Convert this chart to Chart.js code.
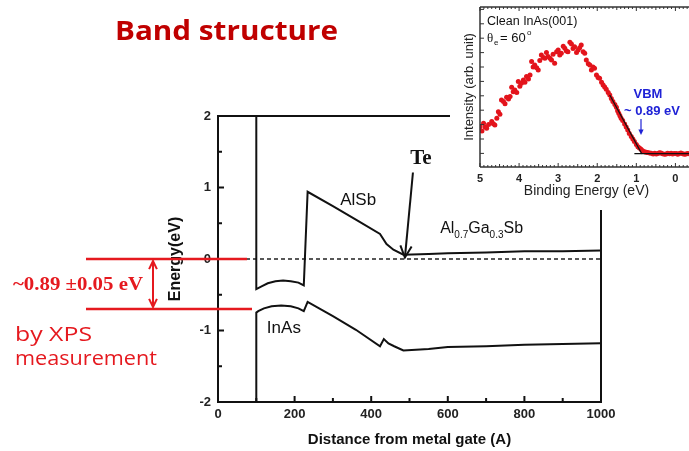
<!DOCTYPE html>
<html>
<head>
<meta charset="utf-8">
<script src="https://cdn.jsdelivr.net/npm/chart.js@4.4.1/dist/chart.umd.min.js"></script>
<style>
html, body { margin: 0; padding: 0; background: #fff; overflow: hidden; width: 689px; height: 451px; }
#main { position: absolute; left: 0; top: 0; }
#inset { position: absolute; left: 450px; top: 0; background: #fff; }
</style>
</head>
<body>
<canvas id="main" width="689" height="451"></canvas>
<canvas id="inset" width="250" height="210"></canvas>
<script>
// main plot: band edges vs distance from the gate
const cbDistance = [100, 100, 115, 130, 150, 170, 190, 210, 224, 234, 300, 360, 423, 440, 458, 484, 550, 600, 700, 800, 900, 1000];
const cbEnergy = [2, -0.42, -0.38, -0.34, -0.31, -0.30, -0.31, -0.33, -0.37, 0.94, 0.74, 0.55, 0.35, 0.21, 0.13, 0.06, 0.07, 0.08, 0.09, 0.11, 0.11, 0.12];
const vbDistance = [100, 100, 105, 120, 140, 165, 190, 210, 224, 234, 300, 360, 423, 433, 445, 460, 484, 550, 600, 700, 800, 900, 1000];
const vbEnergy = [-2, -0.75, -0.73, -0.69, -0.66, -0.65, -0.66, -0.69, -0.73, -0.60, -0.80, -0.99, -1.22, -1.12, -1.18, -1.22, -1.28, -1.26, -1.23, -1.22, -1.20, -1.19, -1.18];
const fermiDistance = [0, 1000];
const fermiEnergy = [0, 0];
const xTickLabels = [0, 200, 400, 600, 800, 1000];
const yTickLabels = [-2, -1, 0, 1, 2];

// inset: XPS valence band spectrum
const bindingEnergy = [5.00, 4.95, 4.91, 4.87, 4.83, 4.78, 4.70, 4.66, 4.62, 4.57, 4.53, 4.49, 4.45, 4.40, 4.36, 4.32, 4.27, 4.23, 4.19, 4.15,
  4.11, 4.06, 4.02, 3.98, 3.94, 3.89, 3.85, 3.81, 3.76, 3.72, 3.68, 3.64, 3.60, 3.55, 3.51, 3.47, 3.43, 3.38, 3.34, 3.30,
  3.26, 3.21, 3.17, 3.13, 3.09, 3.04, 3.00, 2.96, 2.92, 2.87, 2.83, 2.79, 2.75, 2.70, 2.66, 2.62, 2.58, 2.53, 2.49, 2.45,
  2.41, 2.36, 2.32, 2.28, 2.23, 2.19, 2.15, 2.11, 2.07, 2.02, 1.98, 1.94, 1.89, 1.85, 1.81, 1.77, 1.72, 1.68, 1.64, 1.60,
  1.55, 1.51, 1.48, 1.45, 1.42, 1.39, 1.35, 1.30, 1.26, 1.22, 1.18, 1.13, 1.09, 1.05, 1.00, 0.96, 0.92, 0.88, 0.84, 0.79,
  0.75, 0.71, 0.66, 0.62, 0.57, 0.53, 0.49, 0.45, 0.41, 0.37, 0.33, 0.28, 0.24, 0.20, 0.15, 0.11, 0.07, 0.03, -0.02, -0.06,
  -0.10, -0.14, -0.19, -0.23, -0.27, -0.31, -0.35, -0.40];
const intensity = [25.2, 22.5, 27.3, 25.0, 24.2, 26.5, 28.4, 27.0, 26.3, 30.5, 34.6, 33.0, 41.9, 40.9, 39.5, 43.6, 42.5, 44.0, 49.8, 47.0,
  48.2, 46.5, 53.4, 50.5, 52.3, 54.4, 53.0, 56.5, 55.0, 57.5, 65.9, 62.5, 63.8, 62.0, 60.6, 66.5, 70.0, 68.5, 67.9, 71.5,
  69.0, 68.0, 66.9, 70.5, 64.8, 72.0, 73.2, 70.0, 71.1, 75.5, 74.2, 72.5, 72.1, 78.0, 76.9, 74.0, 75.2, 71.5, 73.2, 74.5,
  76.3, 72.0, 71.1, 66.9, 64.5, 63.8, 60.6, 62.5, 61.7, 57.5, 56.0, 55.4, 53.0, 51.3, 50.0, 48.6, 46.5, 45.0, 42.8, 40.9,
  39.0, 37.3, 35.2, 33.6, 32.0, 30.4, 29.0, 26.9, 25.0, 23.2, 21.0, 19.0, 17.5, 15.9, 14.0, 12.7, 11.8, 11.1, 10.2, 9.6,
  9.2, 9.0, 8.7, 8.6, 8.2, 8.6, 8.1, 8.5, 8.9, 8.8, 8.3, 8.0, 8.1, 8.6, 8.3, 8.6, 8.2, 8.5, 8.4, 8.0,
  8.5, 8.8, 8.3, 8.0, 8.1, 8.5, 8.3, 8.1];
const fitEnergy = [1.68, 0.86];
const fitIntensity = [45.0, 8.2];
const baseEnergy = [1.05, -0.45];
const baseIntensity = [8.4, 8.4];
const insetTickLabels = [5, 4, 3, 2, 1, 0];

const RED = '#e5191f';
const zip = (xs, ys) => xs.map((v, i) => ({ x: v, y: ys[i] }));

function line(ctx, x1, y1, x2, y2) {
  ctx.beginPath(); ctx.moveTo(x1, y1); ctx.lineTo(x2, y2); ctx.stroke();
}
function fitText(ctx, text, x, y, w) {
  const m = ctx.measureText(text).width;
  ctx.save(); ctx.translate(x, y); ctx.scale(w / m, 1); ctx.fillText(text, 0, 0); ctx.restore();
}
function arrowHead(ctx, x1, y1, x2, y2, len, open) {
  const a = Math.atan2(y2 - y1, x2 - x1);
  ctx.beginPath();
  ctx.moveTo(x2 - len * Math.cos(a - 0.45), y2 - len * Math.sin(a - 0.45));
  ctx.lineTo(x2, y2);
  ctx.lineTo(x2 - len * Math.cos(a + 0.45), y2 - len * Math.sin(a + 0.45));
  if (open) ctx.stroke(); else { ctx.closePath(); ctx.fill(); }
}

const mainOverlay = {
  id: 'mainOverlay',
  afterDraw(chart) {
    const { ctx, chartArea: a, scales: { x, y } } = chart;
    ctx.save();
    ctx.strokeStyle = '#111';
    ctx.lineWidth = 2;
    ctx.strokeRect(a.left, a.top, a.right - a.left, a.bottom - a.top);
    for (let v = 0; v <= 1000; v += 100) {
      const px = x.getPixelForValue(v);
      line(ctx, px, a.bottom, px, a.bottom - (v % 200 ? 4 : 6));
    }
    for (let v = -2; v <= 2; v += 0.5) {
      const py = y.getPixelForValue(v);
      line(ctx, a.left, py, a.left + (v % 1 ? 4 : 6), py);
    }

    // labels
    ctx.fillStyle = '#111';
    ctx.textBaseline = 'middle';
    ctx.textAlign = 'center';
    ctx.font = '17px "Liberation Sans"';
    ctx.fillText('AlSb', x.getPixelForValue(366), y.getPixelForValue(0.82));
    ctx.fillText('InAs', x.getPixelForValue(172), y.getPixelForValue(-0.97));
    ctx.font = 'bold 21px "Liberation Serif"';
    ctx.fillText('Te', x.getPixelForValue(530), y.getPixelForValue(1.41));

    // Te arrow
    const ax1 = x.getPixelForValue(509), ay1 = y.getPixelForValue(1.21);
    const ax2 = x.getPixelForValue(488), ay2 = y.getPixelForValue(0.02);
    ctx.lineWidth = 2;
    line(ctx, ax1, ay1, ax2, ay2);
    arrowHead(ctx, ax1, ay1, ax2, ay2, 13, true);

    // Al0.7Ga0.3Sb
    ctx.textAlign = 'left';
    ctx.textBaseline = 'alphabetic';
    let tx = x.getPixelForValue(580);
    const ty = y.getPixelForValue(0.37);
    const parts = [['Al', 0], ['0.7', 1], ['Ga', 0], ['0.3', 1], ['Sb', 0]];
    for (const [t, sub] of parts) {
      ctx.font = sub ? '10px "Liberation Sans"' : '16px "Liberation Sans"';
      ctx.fillText(t, tx, ty + (sub ? 5 : 0));
      tx += ctx.measureText(t).width;
    }

    // slide annotations
    ctx.strokeStyle = RED;
    ctx.fillStyle = RED;
    ctx.lineWidth = 2.5;
    const y0 = y.getPixelForValue(0);
    const y1 = y0 + 50;
    line(ctx, 86, y0, 247, y0);
    line(ctx, 86, y1, 252, y1);
    ctx.lineWidth = 2;
    line(ctx, 153, y0 + 2, 153, y1 - 2);
    arrowHead(ctx, 153, y1, 153, y0 + 2, 9, true);
    arrowHead(ctx, 153, y0, 153, y1 - 2, 9, true);
    ctx.textBaseline = 'middle';
    ctx.font = 'bold 18px "Liberation Serif"';
    fitText(ctx, '~0.89 \u00b10.05 eV', 13, 285, 130);
    ctx.font = '20px "Open Sans"';
    fitText(ctx, 'by XPS', 15, 335, 77);
    fitText(ctx, 'measurement', 15, 359, 142);
    ctx.fillStyle = '#c00000';
    ctx.font = 'bold 26px "Open Sans"';
    fitText(ctx, 'Band structure', 115, 33, 223);
    ctx.restore();
  }
};

function build() {
new Chart(document.getElementById('main'), {
  type: 'line',
  data: {
    datasets: [
      { data: zip(cbDistance, cbEnergy), borderColor: '#111', borderWidth: 2, pointRadius: 0, tension: 0 },
      { data: zip(vbDistance, vbEnergy), borderColor: '#111', borderWidth: 2, pointRadius: 0, tension: 0 },
      { data: zip(fermiDistance, fermiEnergy), borderColor: '#222', borderWidth: 1.5, borderDash: [4, 3], pointRadius: 0 }
    ]
  },
  options: {
    responsive: false,
    animation: false,
    layout: { padding: { left: 162, right: 88, top: 116, bottom: 0 } },
    plugins: { legend: { display: false }, tooltip: { enabled: false } },
    scales: {
      x: {
        type: 'linear', min: 0, max: 1000,
        afterBuildTicks: s => { s.ticks = xTickLabels.map(v => ({ value: v })); },
        afterFit: s => { s.height = 49; },
        grid: { display: false, drawTicks: false },
        border: { display: false },
        ticks: { color: '#222', padding: 5, callback: v => String(v),
          font: { family: 'Liberation Sans', size: 13, weight: 'bold' } },
        title: { display: true, text: 'Distance from metal gate (A)', color: '#111', padding: { top: 2, bottom: 2 },
          font: { family: 'Liberation Sans', size: 15, weight: 'bold' } }
      },
      y: {
        type: 'linear', min: -2, max: 2,
        afterBuildTicks: s => { s.ticks = yTickLabels.map(v => ({ value: v })); },
        afterFit: s => { s.width = 56; },
        grid: { display: false, drawTicks: false },
        border: { display: false },
        ticks: { color: '#222', padding: 7, callback: v => String(v),
          font: { family: 'Liberation Sans', size: 13, weight: 'bold' } },
        title: { display: true, text: 'Energy(eV)', color: '#111', padding: { top: 4, bottom: 0 },
          font: { family: 'Liberation Sans', size: 16, weight: 'bold' } }
      }
    }
  },
  plugins: [mainOverlay]
});

const insetOverlay = {
  id: 'insetOverlay',
  afterDraw(chart) {
    const { ctx, chartArea: a, scales: { x, y } } = chart;
    ctx.save();
    ctx.strokeStyle = '#333';
    ctx.lineWidth = 1.5;
    line(ctx, a.left, a.top, a.right + 10, a.top);
    line(ctx, a.left, a.bottom, a.right + 10, a.bottom);
    line(ctx, a.left, a.top, a.left, a.bottom);
    ctx.lineWidth = 1;
    for (let i = -4; i <= 50; i++) {
      const px = x.getPixelForValue(i / 10);
      const len = i % 10 === 0 ? 4 : (i % 5 === 0 ? 3 : 2);
      line(ctx, px, a.bottom, px, a.bottom - len);
      line(ctx, px, a.top, px, a.top + len);
    }
    for (let v = 8.5; v < 100; v += 9) {
      const py = y.getPixelForValue(v);
      line(ctx, a.left, py, a.left + 4, py);
    }

    ctx.fillStyle = '#111';
    ctx.textBaseline = 'middle';
    ctx.textAlign = 'left';
    ctx.font = '12.5px "Liberation Sans"';
    ctx.fillText('Clean InAs(001)', 37, 22);
    ctx.font = '13px "Liberation Serif"';
    ctx.fillText('\u03b8', 37, 39);
    ctx.font = '8px "Liberation Sans"';
    ctx.fillText('e', 44, 43);
    ctx.font = '13px "Liberation Sans"';
    ctx.fillText('= 60', 50, 38);
    ctx.font = '8px "Liberation Sans"';
    ctx.fillText('o', 77, 33);

    ctx.fillStyle = '#1f22d6';
    ctx.strokeStyle = '#1f22d6';
    ctx.textAlign = 'center';
    ctx.font = 'bold 13px "Liberation Sans"';
    ctx.fillText('VBM', 198, 94);
    ctx.fillText('~ 0.89 eV', 202, 111);
    ctx.lineWidth = 1.2;
    line(ctx, 191, 119, 191, 131);
    arrowHead(ctx, 191, 119, 191, 135, 6, false);
    ctx.restore();
  }
};

new Chart(document.getElementById('inset'), {
  type: 'scatter',
  data: {
    datasets: [
      { type: 'line', data: zip(fitEnergy, fitIntensity), borderColor: '#111', borderWidth: 1.2, pointRadius: 0 },
      { type: 'line', data: zip(baseEnergy, baseIntensity), borderColor: '#111', borderWidth: 1.2, pointRadius: 0 },
      { data: zip(bindingEnergy, intensity), backgroundColor: '#e3141c', borderWidth: 0, pointRadius: 2.5 }
    ]
  },
  options: {
    responsive: false,
    animation: false,
    layout: { padding: { left: 8, right: 7, top: 7, bottom: 0 } },
    plugins: { legend: { display: false }, tooltip: { enabled: false } },
    scales: {
      x: {
        type: 'linear', min: -0.45, max: 5, reverse: true,
        afterBuildTicks: s => { s.ticks = insetTickLabels.map(v => ({ value: v })); },
        afterFit: s => { s.height = 43; },
        grid: { display: false, drawTicks: false },
        border: { display: false },
        ticks: { color: '#222', padding: 5, font: { family: 'Liberation Sans', size: 11, weight: 'bold' } },
        title: { display: true, text: 'Binding Energy (eV)', color: '#222', padding: { top: 0, bottom: 10 },
          font: { family: 'Liberation Sans', size: 14 } }
      },
      y: {
        type: 'linear', min: 0, max: 100,
        afterFit: s => { s.width = 22; },
        grid: { display: false, drawTicks: false },
        border: { display: false },
        ticks: { display: false },
        title: { display: true, text: 'Intensity (arb. unit)', color: '#222', padding: { top: 4, bottom: 0 },
          font: { family: 'Liberation Sans', size: 13 } }
      }
    }
  },
  plugins: [insetOverlay]
});
}

Promise.all([
  document.fonts.load('bold 26px "Open Sans"'),
  document.fonts.load('20px "Open Sans"')
]).then(build, build);
</script>
</body>
</html>
